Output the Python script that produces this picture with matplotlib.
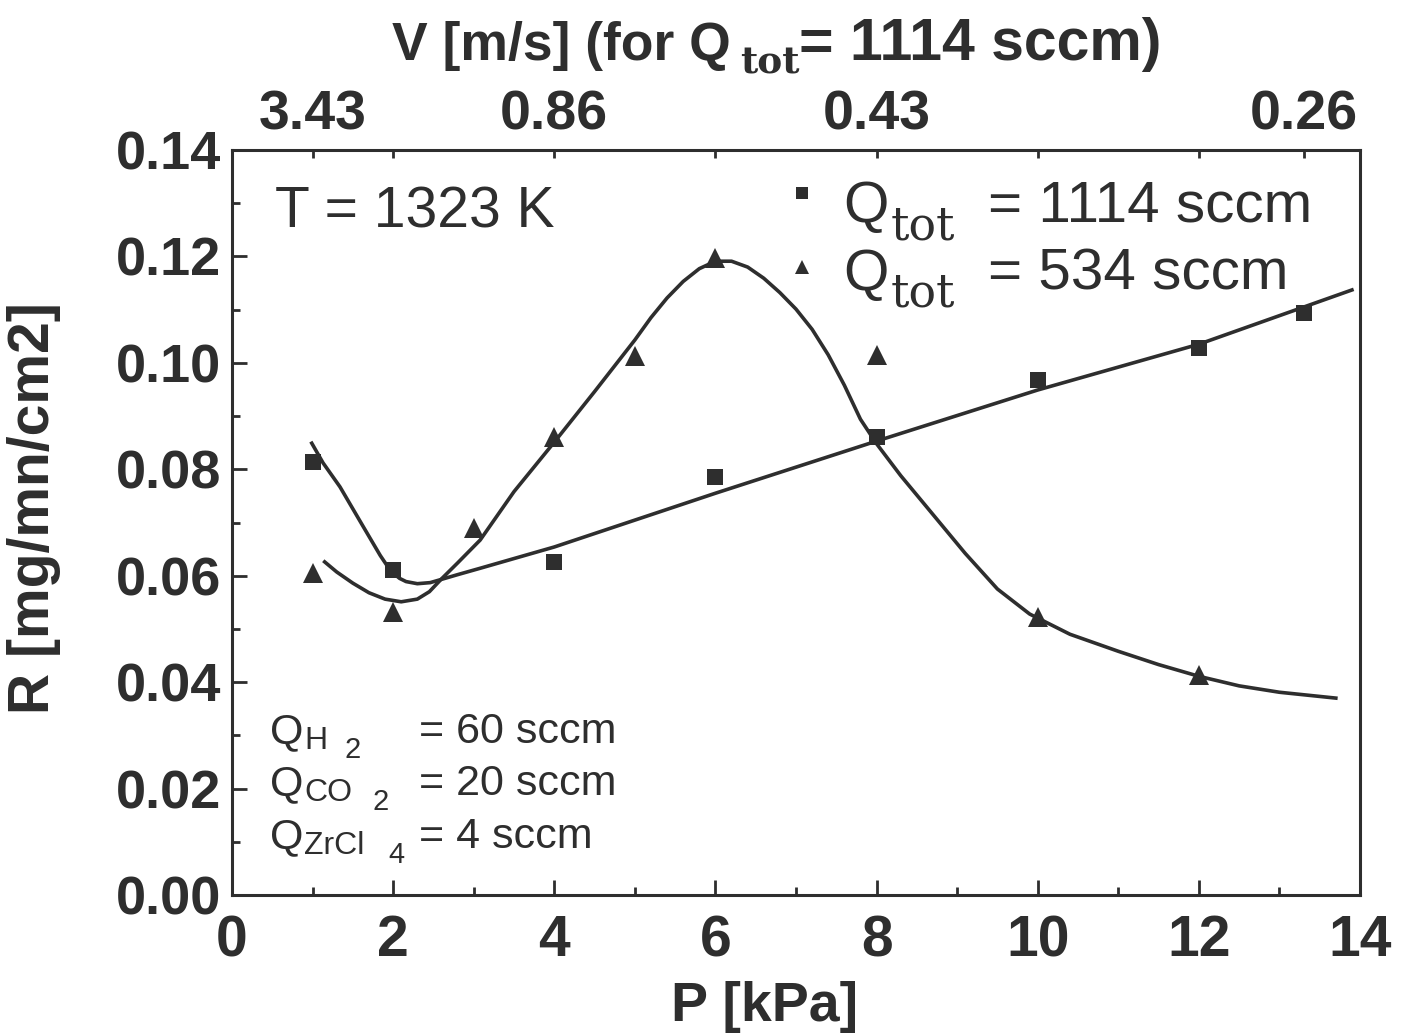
import matplotlib
matplotlib.use("Agg")
import matplotlib.pyplot as plt

# --- data ---
p_1114 = [1, 2, 4, 6, 8, 10, 12, 13.3]
r_1114 = [0.0814, 0.0611, 0.0626, 0.0786, 0.0861, 0.0968, 0.1028, 0.1094]

p_534 = [1, 2, 3, 4, 5, 6, 8, 10, 12]
r_534 = [0.0605, 0.0532, 0.0690, 0.0860, 0.1013, 0.1197, 0.1015, 0.0522, 0.0413]

# fitted curves
fit_p_1114 = [0.99, 1.13, 1.34, 1.63, 1.84, 1.92, 2.00, 2.08, 2.16, 2.30, 2.46,
              2.62, 2.80, 3.08, 4.0, 6.0, 8.0, 10.0, 12.0, 13.9]
fit_r_1114 = [0.0849, 0.0812, 0.0767, 0.0692, 0.0638, 0.0620, 0.0605, 0.0595,
              0.0589, 0.0585, 0.0587, 0.0594, 0.0602, 0.0614, 0.0654, 0.0755,
              0.0853, 0.0949, 0.1035, 0.1137]

fit_p_534 = [1.15, 1.30, 1.50, 1.70, 1.90, 2.10, 2.30, 2.45, 2.60, 2.80, 3.08,
             3.50, 4.00, 4.50, 5.00, 5.20, 5.40, 5.60, 5.80, 6.00, 6.20, 6.40,
             6.60, 6.80, 7.00, 7.20, 7.40, 7.60, 7.80, 8.00, 8.30, 8.70, 9.10,
             9.50, 9.90, 10.40, 11.00, 11.50, 12.00, 12.50, 13.00, 13.70]
fit_r_534 = [0.0626, 0.0607, 0.0586, 0.0568, 0.0556, 0.0551, 0.0556, 0.0570,
             0.0594, 0.0624, 0.0667, 0.0758, 0.0851, 0.0946, 0.1043, 0.1085,
             0.1122, 0.1153, 0.1177, 0.1191, 0.1191, 0.1180, 0.1159, 0.1132,
             0.1101, 0.1063, 0.1015, 0.0958, 0.0894, 0.0848, 0.0788, 0.0715,
             0.0642, 0.0575, 0.0528, 0.0490, 0.0458, 0.0433, 0.0411, 0.0393,
             0.0381, 0.0370]

# top axis: gas velocity for Q_tot = 1114 sccm
v_pos = [1, 2, 4, 6, 8, 10, 12, 13.3]
v_labels = ["3.43", "", "0.86", "", "0.43", "", "", "0.26"]

ink = "#2e2e2e"
W, H = 1419, 1035
sans = ["Liberation Sans", "DejaVu Sans"]
serif = ["DejaVu Serif", "Liberation Serif"]
plt.rcParams["font.family"] = sans

fig = plt.figure(figsize=(W / 100, H / 100), dpi=100)
ax = fig.add_axes([232 / W, 1 - 895 / H, 1128 / W, 745 / H])

ax.plot(fit_p_1114, fit_r_1114, color=ink, lw=2.6, solid_joinstyle="round")
ax.plot(fit_p_534, fit_r_534, color=ink, lw=2.6, solid_joinstyle="round")
ax.plot(p_1114, r_1114, "s", color=ink, ms=12, mew=0)
ax.plot(p_534, r_534, "^", color=ink, ms=14, mew=0)

ax.set_xlim(0, 14)
ax.set_ylim(0, 0.14)
ax.set_xticks(range(0, 15, 2))
ax.set_xticks(range(1, 14, 2), minor=True)
ax.set_yticks([i * 0.02 for i in range(8)])
ax.set_yticks([0.01 + i * 0.02 for i in range(7)], minor=True)
ax.set_yticklabels([f"{i * 0.02:.2f}" for i in range(8)])
for s in ax.spines.values():
    s.set_linewidth(2.2)
    s.set_color(ink)
ax.tick_params(which="both", direction="in", top=False, right=False,
               color=ink, width=2.0)
ax.tick_params(which="major", length=11)
ax.tick_params(which="minor", length=6)
ax.tick_params(axis="x", which="major", pad=14, labelsize=41, labelcolor=ink)
ax.tick_params(axis="y", which="major", pad=8, labelsize=39, labelcolor=ink)
for lab in ax.get_xticklabels() + ax.get_yticklabels():
    lab.set_fontweight("bold")

ax.set_xlabel("P [kPa]", fontsize=40, fontweight="bold", color=ink)
ax.xaxis.set_label_coords(0.472, -0.115)
ax.set_ylabel("R [mg/mn/cm2]", fontsize=41, fontweight="bold", color=ink)
ax.yaxis.set_label_coords(-0.152, 0.52)

top = ax.twiny()
top.set_xlim(0, 14)
top.set_xticks(v_pos)
top.set_xticklabels(v_labels, fontsize=40, fontweight="bold", color=ink)
top.tick_params(direction="in", length=6, width=2.0, color=ink, pad=6)
for s in top.spines.values():
    s.set_visible(False)

renderer = fig.canvas.get_renderer()


def put(x, y, s, size, **kw):
    """Text with its left edge at x px and baseline at y px (from top); returns right edge."""
    t = fig.text(x / W, 1 - y / H, s, fontsize=size, color=ink,
                 ha="left", va="baseline", **kw)
    return t.get_window_extent(renderer).x1


# title of the top axis
x = put(392, 60, "V [m/s] (for Q", 38.5, fontweight="bold")
x = put(x + 9, 74, "tot", 27, family=serif, fontweight="bold")
put(x, 60, "= 1114 sccm)", 42.5, fontweight="bold")

put(275, 227, "T = 1323 K", 41)

# legend drawn by hand
ax.plot([(802 - 232) / 1128], [(895 - 193) / 745], "s", color=ink, ms=9,
        mew=0, transform=ax.transAxes, clip_on=False)
ax.plot([(802 - 232) / 1128], [(895 - 267) / 745], "^", color=ink, ms=10,
        mew=0, transform=ax.transAxes, clip_on=False)
for yb, txt in [(222, "= 1114 sccm"), (290, "= 534 sccm")]:
    put(843, yb, "Q", 42)
    put(891, yb + 17, "tot", 33, family=serif)
    put(988, yb, txt, 42)

# gas flow block
for yb, sub, subsub, x2, rest in [(743, "H", "2", 345, "= 60 sccm"),
                                  (795, "CO", "2", 372, "= 20 sccm"),
                                  (848, "ZrCl", "4", 388, "= 4 sccm")]:
    x = put(270, yb, "Q", 31)
    x = put(x + 1, yb + 6, sub, 23)
    put(max(x2, x + 6), yb + 15, subsub, 21)
    put(419, yb, rest, 31)

fig.savefig("out.png", dpi=100)
